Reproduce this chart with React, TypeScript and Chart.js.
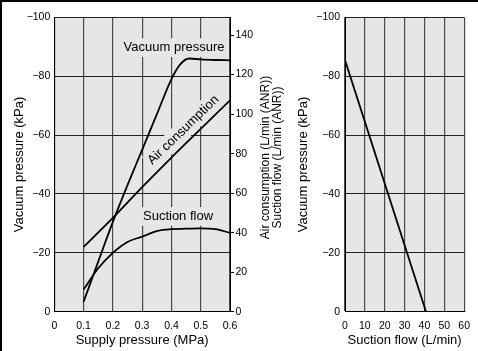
import React, { useEffect, useRef } from 'react';
import { Chart, registerables } from 'chart.js';
Chart.register(...registerables);

// ---- Data ----
// Left chart: characteristics vs supply pressure (MPa)
const vacuumX = [0.1, 0.15, 0.2, 0.25, 0.3, 0.35, 0.4, 0.43, 0.46, 0.5, 0.55, 0.6];
const vacuumPressure = [-3.4, -17, -30.5, -43, -55, -67, -79, -84, -86, -85.7, -85.5, -85.4]; // kPa
const airX = [0.1, 0.2, 0.3, 0.4, 0.5, 0.6];
const airConsumption = [32.8, 47.5, 63, 78, 92.5, 107]; // L/min (ANR)
const suctionX = [0.1, 0.15, 0.2, 0.25, 0.3, 0.35, 0.4, 0.45, 0.5, 0.55, 0.6];
const suctionFlow = [11.2, 22, 29.8, 35.3, 38, 40.8, 41.8, 42, 42.2, 41.8, 39.9]; // L/min (ANR)

// Right chart: vacuum pressure vs suction flow
const flowX = [0, 40.8]; // L/min
const flowVacuum = [-85.5, 0]; // kPa

// Ticks
const supplyTicks = [0, 0.1, 0.2, 0.3, 0.4, 0.5, 0.6];
const vacuumTicks = [-100, -80, -60, -40, -20, 0];
const flowRightTicks = [0, 20, 40, 60, 80, 100, 120, 140];
const suctionAxisTicks = [0, 10, 20, 30, 40, 50, 60];

// Texts
const leftXTitle = 'Supply pressure (MPa)';
const vacuumTitle = 'Vacuum pressure (kPa)';
const rightAxisTitle = ['Air consumption (L/min (ANR))', 'Suction flow (L/min (ANR))'];
const rightXTitle = 'Suction flow (L/min)';
const curveLabels = ['Vacuum pressure', 'Air consumption', 'Suction flow'];

const TICK_FONT = '"Liberation Sans Narrow", "Arial Narrow", "Liberation Sans", Arial, sans-serif';
const TITLE_FONT = '"Liberation Sans", Arial, Helvetica, sans-serif';
const PLOT_BG = '#e6e6e6';
const H_GRID = '#222';
const V_GRID = '#4a4a4a';

const fmtVac = (v: number) => (v < 0 ? '\u2212' + Math.abs(v) : '0');

const bgPlugin = {
  id: 'plotBg',
  beforeDraw(chart: any) {
    const { ctx, chartArea: a } = chart;
    ctx.save();
    ctx.fillStyle = PLOT_BG;
    ctx.fillRect(a.left, a.top, a.right - a.left, a.bottom - a.top);
    ctx.restore();
  },
};

function drawLabel(ctx: CanvasRenderingContext2D, text: string, x: number, y: number, angle: number) {
  ctx.save();
  ctx.translate(x, y);
  ctx.rotate(angle);
  ctx.font = '13px ' + TITLE_FONT;
  const w = ctx.measureText(text).width;
  ctx.fillStyle = PLOT_BG;
  ctx.fillRect(-w / 2 - 2, -9.3, w + 4, 18.6);
  ctx.fillStyle = '#000';
  ctx.textAlign = 'center';
  ctx.textBaseline = 'middle';
  ctx.fillText(text, 0, 0);
  ctx.restore();
}

const labelPlugin = {
  id: 'curveLabels',
  beforeDatasetsDraw(chart: any) {
    const { ctx, scales } = chart;
    const x = scales.x, y = scales.y, y2 = scales.y2;
    drawLabel(ctx, curveLabels[0], x.getPixelForValue(0.409), y.getPixelForValue(-89.7), 0);
    drawLabel(ctx, curveLabels[1], x.getPixelForValue(0.4406), y.getPixelForValue(-61.7), (-44 * Math.PI) / 180);
    drawLabel(ctx, curveLabels[2], x.getPixelForValue(0.4225), y2.getPixelForValue(48.2), 0);
  },
};

const rightTitlePlugin = {
  id: 'rightTitle',
  afterDraw(chart: any) {
    const { ctx } = chart;
    const s = chart.scales.y2;
    ctx.save();
    ctx.font = '12px ' + TITLE_FONT;
    ctx.fillStyle = '#000';
    ctx.textAlign = 'center';
    ctx.textBaseline = 'middle';
    const cy = (chart.chartArea.top + chart.chartArea.bottom) / 2 - 7;
    rightAxisTitle.forEach((t, i) => {
      ctx.save();
      ctx.translate(s.left + 36 + i * 11.5, cy);
      ctx.rotate(-Math.PI / 2);
      ctx.fillText(t, 0, 0);
      ctx.restore();
    });
    ctx.restore();
  },
};

const lineStyle = {
  borderColor: '#000',
  borderWidth: 1.8,
  pointRadius: 0,
  fill: false,
  cubicInterpolationMode: 'monotone' as const,
};

const tickFont = { family: TICK_FONT, size: 10.5 };
const titleFont = { family: TITLE_FONT, size: 13 };

export default function App() {
  const ref1 = useRef<HTMLCanvasElement>(null);
  const ref2 = useRef<HTMLCanvasElement>(null);

  useEffect(() => {
    const c1 = new Chart(ref1.current as HTMLCanvasElement, {
      type: 'line',
      data: {
        datasets: [
          { label: curveLabels[0], data: vacuumX.map((x, i) => ({ x, y: vacuumPressure[i] })), yAxisID: 'y', ...lineStyle },
          { label: curveLabels[1], data: airX.map((x, i) => ({ x, y: airConsumption[i] })), yAxisID: 'y2', ...lineStyle },
          { label: curveLabels[2], data: suctionX.map((x, i) => ({ x, y: suctionFlow[i] })), yAxisID: 'y2', ...lineStyle },
        ],
      },
      options: {
        animation: false,
        responsive: false,
        devicePixelRatio: 1,
        plugins: { legend: { display: false }, tooltip: { enabled: false } },
        layout: { padding: { top: 17.3, left: 0, right: 0, bottom: 0 } },
        scales: {
          x: {
            type: 'linear',
            min: 0,
            max: 0.6,
            afterBuildTicks: (s: any) => { s.ticks = supplyTicks.map((v) => ({ value: v })); },
            ticks: {
              callback: (v: any) => (v === 0 ? '0' : Number(v).toFixed(1)),
              font: tickFont,
              color: '#000',
              padding: 8,
              maxRotation: 0,
              autoSkip: false,
            },
            grid: { color: V_GRID, lineWidth: 1.2, drawTicks: false },
            border: { display: true, color: '#000', width: 1 },
            title: { display: true, text: leftXTitle, font: titleFont, color: '#000', padding: { top: 0, bottom: 3 } },
            afterFit: (s: any) => { s.height = 39.3; },
          },
          y: {
            type: 'linear',
            position: 'left',
            min: -100,
            max: 0,
            reverse: true,
            afterBuildTicks: (s: any) => { s.ticks = vacuumTicks.map((v) => ({ value: v })); },
            ticks: { callback: (v: any) => fmtVac(Number(v)), font: tickFont, color: '#000', padding: 4 },
            grid: { color: H_GRID, lineWidth: 1.1, drawTicks: false },
            border: { display: true, color: '#000', width: 1 },
            title: { display: true, text: vacuumTitle, font: titleFont, color: '#000', padding: { top: 11.8, bottom: 0 } },
            afterFit: (s: any) => { s.width = 54.3; },
          },
          y2: {
            type: 'linear',
            position: 'right',
            min: 0,
            max: 149,
            afterBuildTicks: (s: any) => { s.ticks = flowRightTicks.map((v) => ({ value: v })); },
            ticks: { font: tickFont, color: '#000', padding: 1.5 },
            grid: { drawOnChartArea: false, drawTicks: true, tickLength: 4, color: '#000', lineWidth: 1 },
            border: { display: true, color: '#000', width: 1 },
            afterFit: (s: any) => { s.width = 60; },
          },
        },
      } as any,
      plugins: [bgPlugin, labelPlugin, rightTitlePlugin],
    });

    const c2 = new Chart(ref2.current as HTMLCanvasElement, {
      type: 'line',
      data: {
        datasets: [
          { label: rightXTitle, data: flowX.map((x, i) => ({ x, y: flowVacuum[i] })), ...lineStyle },
        ],
      },
      options: {
        animation: false,
        responsive: false,
        devicePixelRatio: 1,
        plugins: { legend: { display: false }, tooltip: { enabled: false } },
        layout: { padding: { top: 17.3, left: 0, right: 13, bottom: 0 } },
        scales: {
          x: {
            type: 'linear',
            min: 0,
            max: 60,
            afterBuildTicks: (s: any) => { s.ticks = suctionAxisTicks.map((v) => ({ value: v })); },
            ticks: { font: tickFont, color: '#000', padding: 8, maxRotation: 0, autoSkip: false },
            grid: { color: V_GRID, lineWidth: 1.2, drawTicks: false },
            border: { display: true, color: '#000', width: 1 },
            title: { display: true, text: rightXTitle, font: titleFont, color: '#000', padding: { top: 0, bottom: 3 } },
            afterFit: (s: any) => { s.height = 39.3; },
          },
          y: {
            type: 'linear',
            position: 'left',
            min: -100,
            max: 0,
            reverse: true,
            afterBuildTicks: (s: any) => { s.ticks = vacuumTicks.map((v) => ({ value: v })); },
            ticks: { callback: (v: any) => fmtVac(Number(v)), font: tickFont, color: '#000', padding: 5 },
            grid: { color: H_GRID, lineWidth: 1.1, drawTicks: false },
            border: { display: true, color: '#000', width: 1 },
            title: { display: true, text: vacuumTitle, font: titleFont, color: '#000', padding: { top: 6, bottom: 0 } },
            afterFit: (s: any) => { s.width = 55; },
          },
        },
      } as any,
      plugins: [bgPlugin],
    });

    return () => {
      c1.destroy();
      c2.destroy();
    };
  }, []);

  return (
    <div style={{ position: 'absolute', left: 0, top: 0, width: 478, height: 351, background: '#fff', overflow: 'hidden' }}>
      <canvas ref={ref1} width={290} height={351} style={{ position: 'absolute', left: 0, top: 0, width: 290, height: 351 }} />
      <canvas ref={ref2} width={188} height={351} style={{ position: 'absolute', left: 290, top: 0, width: 188, height: 351 }} />
      <div
        style={{
          position: 'absolute',
          left: 0,
          top: 0,
          width: 478,
          height: 351,
          boxSizing: 'border-box',
          borderTop: '2px solid #000',
          borderLeft: '2px solid #000',
          pointerEvents: 'none',
        }}
      />
    </div>
  );
}
